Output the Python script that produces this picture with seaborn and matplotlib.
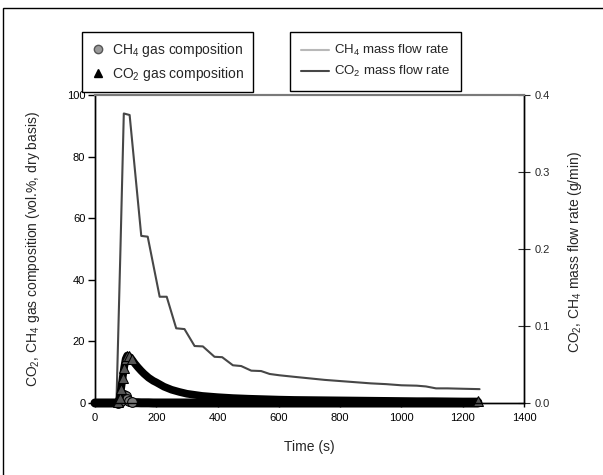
import matplotlib
matplotlib.use("Agg")
import matplotlib.pyplot as plt
from matplotlib.lines import Line2D
from matplotlib.patches import Rectangle
from matplotlib.ticker import FormatStrFormatter
import pandas as pd
import seaborn as sns

# gas composition (vol.%, dry basis)
t_gas = [0, 10, 20, 30, 40, 50, 60, 70, 75, 80, 85, 90, 95, 100, 105, 110,
         120, 130, 140, 150, 160, 175, 190, 200, 225, 250, 275, 300,
         350, 400, 450, 500, 550, 600, 650, 700, 750, 800, 850, 900, 950,
         1000, 1050, 1100, 1150, 1200, 1250]
co2_gas = [0, 0, 0, 0, 0, 0, 0, 0, 0.3, 1.5, 4.5, 8.0, 11.5, 14.3, 15.4, 15.2,
           14.2, 12.8, 11.6, 10.5, 9.5, 8.2, 7.2, 6.7, 5.3, 4.3, 3.6, 3.0,
           2.3, 1.9, 1.6, 1.4, 1.25, 1.1, 1.0, 0.95, 0.9, 0.85, 0.8, 0.75, 0.7,
           0.65, 0.6, 0.6, 0.55, 0.5, 0.5]
ch4_gas = [0, 0, 0, 0, 0, 0, 0, 0, 0, 0.3, 0.8, 1.8, 2.6, 2.4, 1.3, 0.5,
           0.2, 0.1, 0.1, 0.05, 0.05, 0.05, 0, 0, 0, 0, 0, 0,
           0, 0, 0, 0, 0, 0, 0, 0, 0, 0, 0, 0, 0,
           0, 0, 0, 0, 0, 0]

# mass flow rates (g/min)
t_flow = [0, 70, 83, 94, 113, 151, 172, 211, 234, 265, 292, 325, 352, 390, 415,
          450, 477, 510, 542, 570, 602, 650, 700, 750, 800, 850, 900, 950, 1000,
          1050, 1080, 1113, 1150, 1200, 1255]
co2_flow = [0, 0, 0.199, 0.376, 0.374, 0.217, 0.216, 0.138, 0.138, 0.097, 0.096,
            0.074, 0.0735, 0.060, 0.0595, 0.049, 0.048, 0.042, 0.0415, 0.0377,
            0.036, 0.034, 0.032, 0.030, 0.0285, 0.027, 0.0255, 0.0245, 0.023,
            0.0225, 0.0215, 0.019, 0.019, 0.0185, 0.018]
ch4_flow = [0, 0, 0.002, 0.006, 0.004, 0.002, 0.002, 0.001, 0.001, 0, 0,
            0, 0, 0, 0, 0, 0, 0, 0, 0, 0, 0, 0, 0, 0, 0, 0, 0, 0,
            0, 0, 0, 0, 0, 0]

gas = pd.DataFrame({"t": t_gas, "co2": co2_gas, "ch4": ch4_gas})
flow = pd.DataFrame({"t": t_flow, "co2": co2_flow, "ch4": ch4_flow})

sns.set_style("ticks")
plt.rcParams["font.family"] = ["Liberation Sans", "DejaVu Sans"]
plt.rcParams["mathtext.default"] = "regular"

fig = plt.figure(figsize=(6.03, 4.75), dpi=100)
ax = fig.add_axes([95 / 603, 1 - 403 / 475, 429 / 603, 308 / 475])
ax2 = ax.twinx()
ax.set_zorder(ax2.get_zorder() + 1)
ax.patch.set_visible(False)

# mass flow lines (right axis)
sns.lineplot(data=flow, x="t", y="ch4", ax=ax2, color="#b8b8b8", lw=1.5)
sns.lineplot(data=flow, x="t", y="co2", ax=ax2, color="#474747", lw=1.5)

# gas composition: dense markers merge into a black band, so the band is a
# thick line and individual markers only show where they separate
rise = list(range(8, 17))
sns.lineplot(data=gas, x="t", y="ch4", ax=ax, color="k", lw=6.5,
             marker="o", markersize=7, markerfacecolor="#7a7a7a",
             markeredgecolor="k", markevery=rise)
sns.lineplot(data=gas, x="t", y="co2", ax=ax, color="k", lw=5.5,
             marker="^", markersize=7, markerfacecolor="#555555",
             markeredgecolor="k", markevery=rise + [len(t_gas) - 1])
for ln in ax.lines:
    ln.set_clip_on(False)

ax.set_xlim(0, 1400)
ax.set_ylim(0, 100)
ax2.set_ylim(0, 0.4)
ax.set_xticks(range(0, 1401, 200))
ax.set_yticks(range(0, 101, 20))
ax2.set_yticks([0, 0.1, 0.2, 0.3, 0.4])
ax2.yaxis.set_major_formatter(FormatStrFormatter("%.1f"))

ax.tick_params(axis="both", labelsize=8, width=1, colors="k")
ax.tick_params(axis="y", direction="out", length=5, pad=2)
ax.tick_params(axis="x", direction="out", length=3, pad=4)
ax2.tick_params(axis="y", direction="inout", length=8, labelsize=8, pad=4)

ax.set_xlabel("Time (s)", fontsize=10)
ax.set_ylabel("CO$_2$, CH$_4$ gas composition (vol.%, dry basis)", fontsize=10)
ax2.set_ylabel("CO$_2$, CH$_4$ mass flow rate (g/min)", fontsize=10)
ax.xaxis.set_label_coords(0.5, -0.12)
ax.yaxis.set_label_coords(-0.123, 0.5)
ax2.yaxis.set_label_coords(1.097, 0.49)

for a in (ax, ax2):
    for s in a.spines.values():
        s.set_color("k")
        s.set_linewidth(1)
    a.spines["top"].set_color("#7a7a7a")
    a.spines["top"].set_linewidth(1.5)
    a.spines["top"].set_visible(True)
    a.spines["right"].set_visible(True)

# legends
h_gas = [
    Line2D([], [], ls="", marker="o", markersize=6, markerfacecolor="#9a9a9a",
           markeredgecolor="#555555"),
    Line2D([], [], ls="", marker="^", markersize=6, markerfacecolor="k",
           markeredgecolor="k"),
]
h_flow = [
    Line2D([], [], color="#b8b8b8", lw=1.5),
    Line2D([], [], color="#474747", lw=1.5),
]
leg_kw = dict(loc="upper left", frameon=True, fancybox=False,
              framealpha=1, edgecolor="k", labelspacing=0.45,
              borderaxespad=0)
lg1 = fig.legend(h_gas, ["CH$_4$ gas composition", "CO$_2$ gas composition"],
                 bbox_to_anchor=(82 / 603, 1 - 32 / 475), handlelength=1.0,
                 handletextpad=0.5, fontsize=10, borderpad=0.65, **leg_kw)
lg2 = fig.legend(h_flow, ["CH$_4$ mass flow rate", "CO$_2$ mass flow rate"],
                 bbox_to_anchor=(290 / 603, 1 - 32 / 475), handlelength=2.1,
                 handletextpad=0.4, fontsize=9.5, borderpad=0.85, **leg_kw)
for lg in (lg1, lg2):
    lg.get_frame().set_linewidth(1)

# outer frame (only left/top edges fall inside the image)
fig.add_artist(Rectangle((3 / 603, -0.2), 1.3, 1 - 8 / 475 + 0.2,
                         transform=fig.transFigure, fill=False,
                         edgecolor="k", lw=1))

fig.savefig("out.png", dpi=100)
